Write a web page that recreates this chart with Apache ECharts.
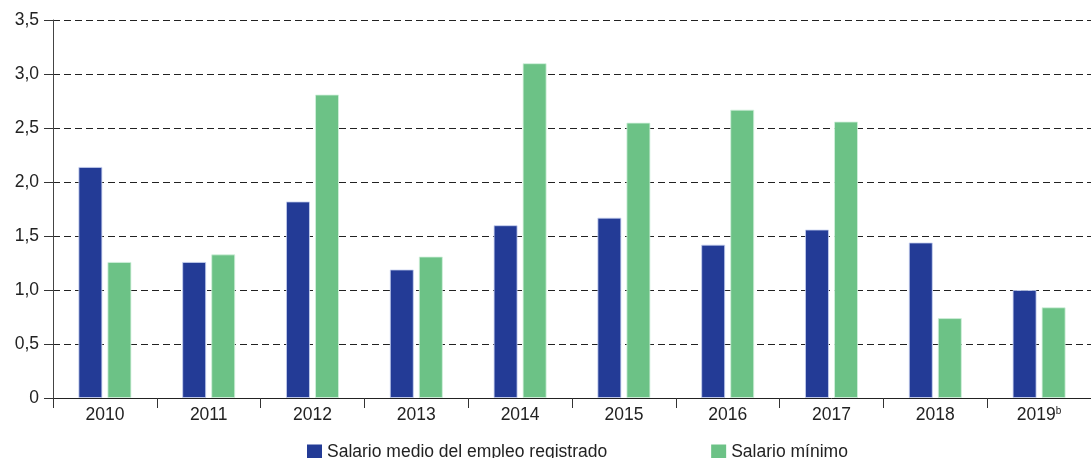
<!DOCTYPE html>
<html>
<head>
<meta charset="utf-8">
<script src="https://cdn.jsdelivr.net/npm/echarts@6/dist/echarts.min.js"></script>
<style>html,body{margin:0;padding:0;background:#fff}#c{width:1091px;height:458px}</style>
</head>
<body>
<div id="c"></div>
<script>
var categories = ['2010','2011','2012','2013','2014','2015','2016','2017','2018','2019'];
var categorySuffix = ['','','','','','','','','','b'];
var seriesNames = ['Salario medio del empleo registrado','Salario mínimo'];
var salarioMedio = [2.14,1.26,1.82,1.19,1.60,1.67,1.42,1.56,1.44,1.00];
var salarioMinimo = [1.26,1.33,2.81,1.31,3.10,2.55,2.67,2.56,0.74,0.84];
var yTicks = {min:0, max:3.5, interval:0.5};

var chart = echarts.init(document.getElementById('c'));
var font = 'Liberation Sans, Arial, sans-serif';
chart.setOption({
  animation:false,
  textStyle:{fontFamily:font},
  grid:{left:53, top:20, width:1048, height:378, containLabel:false},
  legend:{
    left:302, top:438, itemWidth:15, itemHeight:15, itemGap:104,
    icon:'rect',
    itemStyle:{borderWidth:0},
    textStyle:{fontSize:17.5, color:'#222', fontFamily:font},
    data:seriesNames
  },
  xAxis:{
    type:'category', data:categories,
    axisLine:{lineStyle:{color:'#222', width:1}},
    axisTick:{show:true, interval:0, alignWithLabel:false, length:10, lineStyle:{color:'#333'}},
    axisLabel:{
      interval:0, hideOverlap:false,
      fontSize:17.5, color:'#222', margin:8,
      formatter:function(v, i){ return categorySuffix[i] ? v + '{sup|' + categorySuffix[i] + '}' : v; },
      rich:{sup:{fontSize:10, verticalAlign:'top', padding:[0,0,8,0], color:'#222'}}
    }
  },
  yAxis:{
    type:'value', min:yTicks.min, max:yTicks.max, interval:yTicks.interval,
    axisLine:{show:true, lineStyle:{color:'#444'}},
    axisTick:{show:true, length:9, lineStyle:{color:'#333'}},
    axisLabel:{fontSize:17.5, color:'#222', margin:14,
      formatter:function(v){ return v===0 ? '0' : v.toFixed(1).replace('.',','); }},
    splitLine:{show:true, lineStyle:{color:'#222', type:[7,4], width:1}}
  },
  series:[
    {name:seriesNames[0], type:'bar', data:salarioMedio, barWidth:24, barGap:'21%',
     itemStyle:{color:'#233B96', borderColor:'rgba(200,210,240,0.8)', borderWidth:1}},
    {name:seriesNames[1], type:'bar', data:salarioMinimo, barWidth:24,
     itemStyle:{color:'#6CC286', borderColor:'rgba(210,240,220,0.8)', borderWidth:1}}
  ]
});
</script>
</body>
</html>
